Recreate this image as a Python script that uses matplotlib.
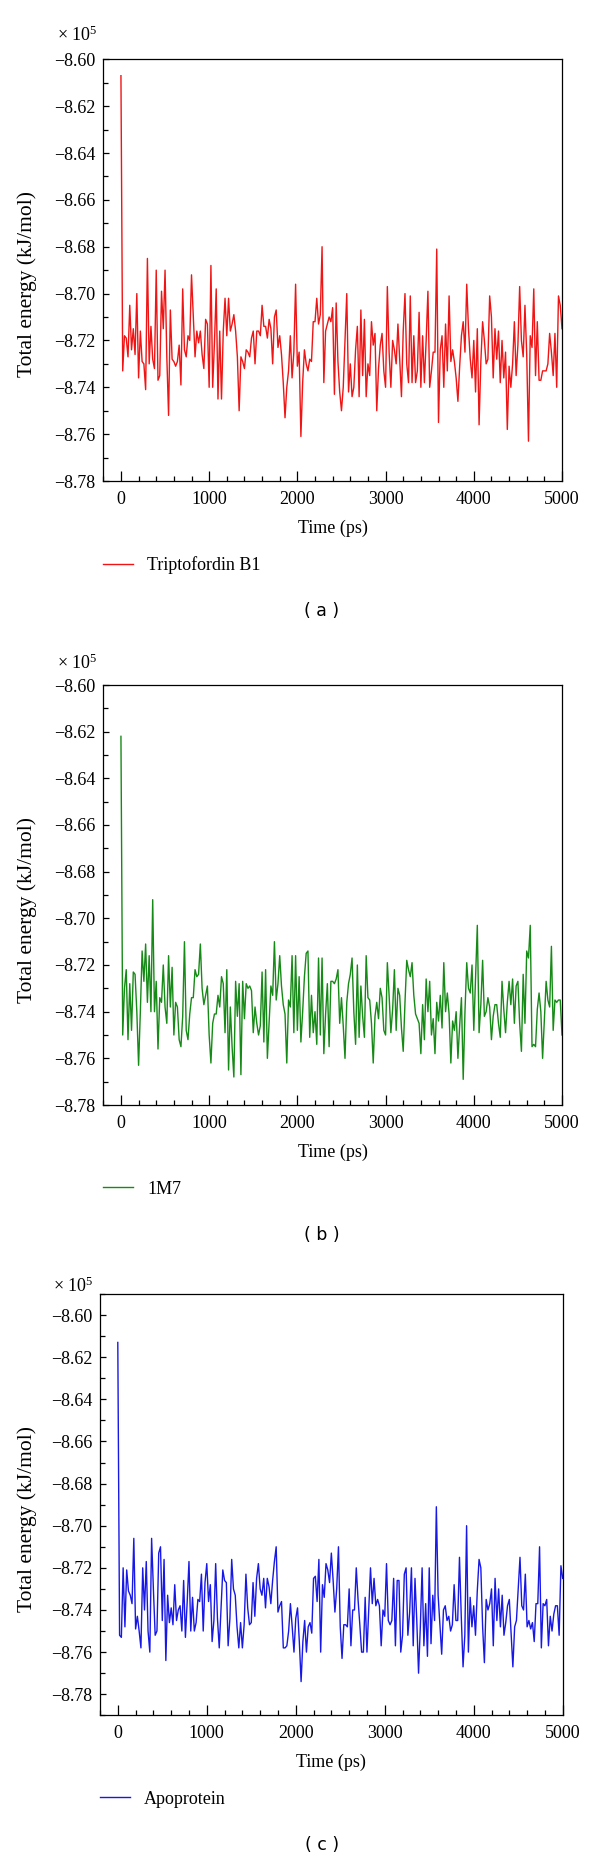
import numpy as np
import matplotlib
matplotlib.use("Agg")
import matplotlib.pyplot as plt
from matplotlib.ticker import MultipleLocator, FuncFormatter

plt.rcParams['font.family'] = ['Liberation Serif', 'DejaVu Serif']
plt.rcParams['mathtext.fontset'] = 'custom'
plt.rcParams['mathtext.rm'] = 'Liberation Serif'
plt.rcParams['mathtext.it'] = 'Liberation Serif:italic'

# ---------------- data (total energy, x 1e5 kJ/mol; sampled every 20 ps) ----------------
triptofordin = [
    -8.607, -8.733, -8.718, -8.719, -8.727, -8.705, -8.724, -8.715, -8.726, -8.700,
    -8.736, -8.716, -8.729, -8.730, -8.741, -8.685, -8.730, -8.714, -8.728, -8.732,
    -8.690, -8.737, -8.735, -8.699, -8.715, -8.690, -8.727, -8.752, -8.707, -8.728,
    -8.729, -8.731, -8.729, -8.722, -8.739, -8.698, -8.724, -8.727, -8.718, -8.720,
    -8.692, -8.709, -8.727, -8.716, -8.721, -8.716, -8.726, -8.732, -8.711, -8.713,
    -8.740, -8.688, -8.740, -8.721, -8.698, -8.745, -8.716, -8.745, -8.716, -8.702,
    -8.718, -8.702, -8.716, -8.713, -8.709, -8.716, -8.727, -8.750, -8.727, -8.729,
    -8.732, -8.724, -8.725, -8.727, -8.719, -8.716, -8.730, -8.716, -8.716, -8.718,
    -8.705, -8.714, -8.714, -8.719, -8.711, -8.715, -8.730, -8.710, -8.707, -8.723,
    -8.718, -8.726, -8.738, -8.753, -8.740, -8.733, -8.718, -8.736, -8.725, -8.696,
    -8.731, -8.725, -8.761, -8.738, -8.724, -8.730, -8.733, -8.728, -8.729, -8.712,
    -8.712, -8.702, -8.713, -8.709, -8.680, -8.738, -8.716, -8.713, -8.710, -8.712,
    -8.706, -8.743, -8.704, -8.729, -8.742, -8.750, -8.740, -8.720, -8.700, -8.742,
    -8.730, -8.744, -8.740, -8.724, -8.714, -8.744, -8.707, -8.735, -8.711, -8.744,
    -8.730, -8.735, -8.712, -8.722, -8.717, -8.750, -8.732, -8.722, -8.717, -8.733,
    -8.740, -8.697, -8.725, -8.740, -8.720, -8.724, -8.730, -8.713, -8.728, -8.744,
    -8.716, -8.700, -8.730, -8.738, -8.701, -8.738, -8.718, -8.738, -8.733, -8.708,
    -8.740, -8.718, -8.738, -8.720, -8.699, -8.740, -8.733, -8.725, -8.725, -8.681,
    -8.755, -8.724, -8.718, -8.740, -8.713, -8.733, -8.701, -8.729, -8.724, -8.729,
    -8.736, -8.746, -8.731, -8.718, -8.712, -8.725, -8.696, -8.715, -8.728, -8.736,
    -8.720, -8.742, -8.715, -8.756, -8.729, -8.712, -8.720, -8.730, -8.728, -8.701,
    -8.710, -8.736, -8.715, -8.728, -8.716, -8.738, -8.720, -8.736, -8.725, -8.758,
    -8.731, -8.740, -8.730, -8.712, -8.735, -8.722, -8.697, -8.720, -8.727, -8.705,
    -8.726, -8.763, -8.718, -8.723, -8.698, -8.735, -8.712, -8.737, -8.737, -8.733,
    -8.733, -8.733, -8.730, -8.717, -8.725, -8.735, -8.717, -8.740, -8.701, -8.705,
    -8.715,
]

m1m7 = [
    -8.622, -8.750, -8.730, -8.722, -8.752, -8.728, -8.748, -8.723, -8.724, -8.740,
    -8.763, -8.740, -8.714, -8.727, -8.711, -8.736, -8.716, -8.740, -8.692, -8.740,
    -8.727, -8.756, -8.734, -8.736, -8.720, -8.738, -8.745, -8.716, -8.738, -8.721,
    -8.750, -8.736, -8.738, -8.752, -8.755, -8.742, -8.710, -8.748, -8.752, -8.741,
    -8.734, -8.734, -8.722, -8.725, -8.724, -8.711, -8.730, -8.737, -8.733, -8.729,
    -8.750, -8.762, -8.745, -8.741, -8.741, -8.733, -8.738, -8.725, -8.728, -8.749,
    -8.722, -8.765, -8.738, -8.755, -8.768, -8.727, -8.742, -8.728, -8.767, -8.727,
    -8.743, -8.728, -8.730, -8.729, -8.731, -8.749, -8.738, -8.745, -8.750, -8.746,
    -8.723, -8.753, -8.722, -8.760, -8.744, -8.729, -8.733, -8.710, -8.735, -8.728,
    -8.716, -8.729, -8.737, -8.741, -8.762, -8.735, -8.738, -8.716, -8.749, -8.716,
    -8.748, -8.725, -8.753, -8.740, -8.725, -8.715, -8.714, -8.751, -8.733, -8.749,
    -8.740, -8.754, -8.717, -8.750, -8.717, -8.758, -8.741, -8.728, -8.755, -8.727,
    -8.727, -8.728, -8.726, -8.722, -8.745, -8.734, -8.746, -8.760, -8.736, -8.728,
    -8.724, -8.717, -8.740, -8.754, -8.720, -8.751, -8.729, -8.742, -8.751, -8.716,
    -8.734, -8.735, -8.745, -8.762, -8.742, -8.736, -8.743, -8.730, -8.734, -8.748,
    -8.750, -8.719, -8.733, -8.749, -8.739, -8.722, -8.748, -8.730, -8.733, -8.747,
    -8.757, -8.736, -8.718, -8.722, -8.725, -8.719, -8.733, -8.741, -8.743, -8.745,
    -8.758, -8.737, -8.752, -8.726, -8.740, -8.727, -8.750, -8.743, -8.758, -8.736,
    -8.744, -8.733, -8.747, -8.719, -8.740, -8.732, -8.741, -8.762, -8.744, -8.748,
    -8.740, -8.760, -8.746, -8.734, -8.769, -8.740, -8.719, -8.730, -8.732, -8.720,
    -8.748, -8.725, -8.703, -8.749, -8.737, -8.718, -8.742, -8.740, -8.734, -8.738,
    -8.752, -8.742, -8.737, -8.737, -8.745, -8.751, -8.727, -8.739, -8.749, -8.736,
    -8.727, -8.737, -8.726, -8.745, -8.729, -8.727, -8.745, -8.757, -8.724, -8.745,
    -8.714, -8.717, -8.703, -8.755, -8.754, -8.755, -8.739, -8.732, -8.740, -8.760,
    -8.744, -8.727, -8.735, -8.738, -8.712, -8.748, -8.735, -8.736, -8.735, -8.735,
    -8.750,
]

apoprotein = [
    -8.613, -8.752, -8.753, -8.720, -8.748, -8.721, -8.731, -8.733, -8.737, -8.706,
    -8.749, -8.743, -8.750, -8.758, -8.720, -8.740, -8.717, -8.750, -8.760, -8.706,
    -8.730, -8.752, -8.750, -8.713, -8.710, -8.745, -8.716, -8.764, -8.733, -8.746,
    -8.739, -8.747, -8.728, -8.745, -8.740, -8.738, -8.750, -8.726, -8.753, -8.736,
    -8.717, -8.750, -8.734, -8.750, -8.746, -8.735, -8.736, -8.723, -8.750, -8.727,
    -8.718, -8.736, -8.728, -8.755, -8.745, -8.718, -8.744, -8.758, -8.739, -8.721,
    -8.726, -8.727, -8.757, -8.744, -8.716, -8.730, -8.733, -8.748, -8.758, -8.746,
    -8.758, -8.747, -8.723, -8.739, -8.747, -8.746, -8.727, -8.743, -8.725, -8.718,
    -8.730, -8.733, -8.725, -8.739, -8.725, -8.729, -8.737, -8.726, -8.717, -8.710,
    -8.741, -8.738, -8.736, -8.758, -8.758, -8.757, -8.750, -8.737, -8.748, -8.760,
    -8.744, -8.739, -8.755, -8.774, -8.755, -8.745, -8.760, -8.748, -8.746, -8.751,
    -8.725, -8.724, -8.736, -8.716, -8.760, -8.728, -8.734, -8.718, -8.721, -8.727,
    -8.713, -8.726, -8.741, -8.730, -8.710, -8.748, -8.763, -8.747, -8.747, -8.748,
    -8.730, -8.757, -8.740, -8.740, -8.720, -8.735, -8.747, -8.760, -8.760, -8.734,
    -8.760, -8.740, -8.720, -8.737, -8.725, -8.738, -8.735, -8.738, -8.757, -8.740,
    -8.743, -8.718, -8.745, -8.747, -8.745, -8.725, -8.757, -8.726, -8.726, -8.760,
    -8.752, -8.723, -8.720, -8.752, -8.741, -8.720, -8.757, -8.725, -8.745, -8.770,
    -8.748, -8.720, -8.757, -8.737, -8.762, -8.720, -8.756, -8.733, -8.745, -8.691,
    -8.733, -8.747, -8.761, -8.740, -8.738, -8.745, -8.743, -8.750, -8.747, -8.728,
    -8.745, -8.745, -8.715, -8.743, -8.767, -8.752, -8.700, -8.760, -8.734, -8.748,
    -8.738, -8.752, -8.731, -8.716, -8.720, -8.748, -8.765, -8.735, -8.740, -8.737,
    -8.730, -8.757, -8.725, -8.745, -8.730, -8.748, -8.733, -8.752, -8.746, -8.738,
    -8.735, -8.751, -8.767, -8.748, -8.745, -8.730, -8.715, -8.738, -8.740, -8.723,
    -8.748, -8.745, -8.749, -8.746, -8.755, -8.737, -8.737, -8.710, -8.758, -8.737,
    -8.738, -8.735, -8.757, -8.743, -8.750, -8.742, -8.738, -8.738, -8.752, -8.719,
    -8.725,
]

series_labels = ["Triptofordin B1", "1M7", "Apoprotein"]
series_colors = ["#f01414", "#168a16", "#1818e6"]
captions = ["( a )", "( b )", "( c )"]
ylims = [(-8.78, -8.60), (-8.78, -8.60), (-8.79, -8.59)]
x_ticks = [0, 1000, 2000, 3000, 4000, 5000]

# ---------------- figure ----------------
W, H = 600, 1860
fig = plt.figure(figsize=(W / 100, H / 100), dpi=100)

# axes boxes in pixels: left, right, top, bottom
boxes = [(103.3, 562.0, 59.3, 481.0),
         (103.3, 562.0, 685.0, 1105.0),
         (100.0, 562.7, 1294.0, 1715.3)]
mult_offsets = [24, 22, 8]

FS = 13
minus_fmt = FuncFormatter(lambda v, p: f"{v:.2f}".replace('-', '\u2212'))

for data, lab, col, cap, yl, (l, r, t, b), mo in zip(
        [triptofordin, m1m7, apoprotein], series_labels, series_colors,
        captions, ylims, boxes, mult_offsets):
    ax = fig.add_axes([l / W, 1 - b / H, (r - l) / W, (b - t) / H])
    vals = np.array(data)
    time = np.linspace(0, 5000, len(vals))
    ax.plot(time, vals, color=col, lw=1.0, label=lab)
    ax.set_xlim(-200, 5000)
    ax.set_ylim(*yl)
    ax.set_xticks(x_ticks)
    ax.xaxis.set_minor_locator(MultipleLocator(200))
    ax.yaxis.set_major_locator(MultipleLocator(0.02))
    ax.yaxis.set_minor_locator(MultipleLocator(0.01))
    ax.yaxis.set_major_formatter(minus_fmt)
    ax.tick_params(axis='x', which='major', direction='in', length=7, width=0.9,
                   labelsize=FS, pad=7, top=False)
    ax.tick_params(axis='x', which='minor', direction='in', length=3.5, width=0.9, top=False)
    ax.tick_params(axis='y', which='major', direction='in', length=4.5, width=0.9,
                   labelsize=FS, pad=5.5, right=False)
    ax.tick_params(axis='y', which='minor', direction='in', length=3.5, width=0.9, right=False)
    for s in ax.spines.values():
        s.set_linewidth(0.9)
    ax.set_xlabel("Time (ps)", fontsize=FS, va='center')
    ax.xaxis.set_label_coords(0.5, -(47.0) / (b - t))

    # y label (top end of rotated text ~132 px below the axes top)
    fig.text(27 / W, 1 - (t + 132) / H, "Total energy (kJ/mol)", rotation=90,
             ha='center', va='top', fontsize=15.5)
    # multiplier
    fig.text((l - 6) / W, 1 - (t - mo) / H, "\u00d7 10$^{5}$", ha='right', va='center',
             fontsize=FS)

    ax.legend(loc='center left', bbox_to_anchor=(0, -84.0 / (b - t)),
              bbox_transform=ax.transAxes, frameon=False, borderaxespad=0,
              borderpad=0, handlelength=1.67, handletextpad=0.75, fontsize=FS)

    fig.text(322 / W, 1 - (b + 130) / H, cap, ha='center', va='center',
             fontsize=12.5, family='DejaVu Sans')

fig.savefig("out.png", dpi=100, facecolor='white')
